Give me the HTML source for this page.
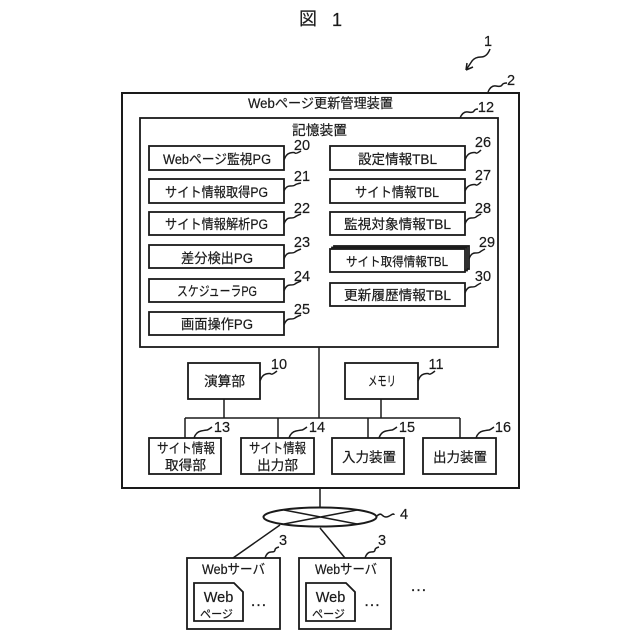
<!DOCTYPE html>
<html><head><meta charset="utf-8"><style>
html,body{margin:0;padding:0;background:#fff}
svg{display:block}
text{font-family:"Liberation Sans","Noto Sans CJK JP",sans-serif;fill:#1a1a1a;stroke:#1a1a1a;stroke-width:.2;text-anchor:middle}
.b{fill:#fff;stroke:#1a1a1a;stroke-width:1.8}
.l{fill:none;stroke:#1a1a1a;stroke-width:1.5}
.t{font-size:13.5px}
.n{font-size:14.5px}
</style></head><body>
<svg width="640" height="640" viewBox="0 0 640 640" xmlns="http://www.w3.org/2000/svg">
<text x="308" y="25" font-size="18">図</text>
<text x="337" y="26" font-size="18">1</text>
<text x="488" y="46" class="n">1</text>
<path class="l" d="M490 49q-3 8-9 8t-9 4l-6 9M466 70l1-7M466 70l7-3"/>

<rect class="b" x="122" y="93" width="397" height="395" style="stroke-width:2"/>
<text x="320.500" y="108" class="t" textLength="145" lengthAdjust="spacingAndGlyphs">Webページ更新管理装置</text>
<text x="511" y="85" class="n">2</text>
<path class="l" d="M488 92q3-7 8-6t6-1 5-2"/>
<rect class="b" x="140" y="118" width="358" height="229"/>
<text x="319.500" y="135" class="t" textLength="55" lengthAdjust="spacingAndGlyphs">記憶装置</text>
<text x="486" y="112" class="n">12</text>
<path class="l" d="M460 118q3-7 8-6t6-1 4-2"/>

<g>
<rect class="b" x="149" y="146" width="135" height="24"/><text x="217" y="164" class="t" textLength="108" lengthAdjust="spacingAndGlyphs">Webページ監視PG</text>
<rect class="b" x="149" y="179" width="135" height="24"/><text x="216.500" y="197" class="t" textLength="103" lengthAdjust="spacingAndGlyphs">サイト情報取得PG</text>
<rect class="b" x="149" y="212" width="135" height="23"/><text x="216.500" y="229" class="t" textLength="103" lengthAdjust="spacingAndGlyphs">サイト情報解析PG</text>
<rect class="b" x="149" y="245" width="135" height="23"/><text x="217" y="263" class="t" textLength="72" lengthAdjust="spacingAndGlyphs">差分検出PG</text>
<rect class="b" x="149" y="279" width="135" height="23"/><text x="217" y="296" class="t" textLength="80" lengthAdjust="spacingAndGlyphs">スケジューラPG</text>
<rect class="b" x="149" y="312" width="135" height="23"/><text x="217" y="329" class="t" textLength="72" lengthAdjust="spacingAndGlyphs">画面操作PG</text>
<text x="302" y="150" class="n">20</text><path class="l" d="M284 160q2-6 6-7t5 0 6-2"/>
<text x="302" y="181" class="n">21</text><path class="l" d="M284 191q2-5 6-5t5-1 6-2"/>
<text x="302" y="213" class="n">22</text><path class="l" d="M284 224q2-6 6-6t5-1 6-3"/>
<text x="302" y="247" class="n">23</text><path class="l" d="M284 259q2-6 6-6t5-1 6-3"/>
<text x="302" y="281" class="n">24</text><path class="l" d="M284 291q2-6 6-6t5-1 6-3"/>
<text x="302" y="314" class="n">25</text><path class="l" d="M284 325q2-6 6-6t5-1 6-3"/>
</g>
<g>
<rect class="b" x="330" y="146" width="135" height="24"/><text x="397.500" y="164" class="t" textLength="79" lengthAdjust="spacingAndGlyphs">設定情報TBL</text>
<rect class="b" x="330" y="179" width="135" height="24"/><text x="397" y="197" class="t" textLength="84" lengthAdjust="spacingAndGlyphs">サイト情報TBL</text>
<rect class="b" x="330" y="212" width="135" height="23"/><text x="397.500" y="229" class="t" textLength="107" lengthAdjust="spacingAndGlyphs">監視対象情報TBL</text>
<rect class="b" x="334" y="246" width="135" height="23"/>
<rect class="b" x="332" y="247.500" width="135" height="23"/>
<rect class="b" x="330" y="249" width="135" height="23"/><text x="397" y="266" font-size="12.500" textLength="102" lengthAdjust="spacingAndGlyphs">サイト取得情報TBL</text>
<rect class="b" x="330" y="283" width="135" height="23"/><text x="397.500" y="300" class="t" textLength="107" lengthAdjust="spacingAndGlyphs">更新履歴情報TBL</text>
<text x="483" y="147" class="n">26</text><path class="l" d="M465 160q2-6 6-7t5 0 5-3"/>
<text x="483" y="180" class="n">27</text><path class="l" d="M465 191q2-5 6-6t5 0 5-3"/>
<text x="483" y="213" class="n">28</text><path class="l" d="M465 224q2-6 6-6t5-1 5-3"/>
<text x="487" y="247" class="n">29</text><path class="l" d="M469 259q2-6 6-6t5-1 5-3"/>
<text x="483" y="281" class="n">30</text><path class="l" d="M465 293q2-6 6-6t5-1 5-3"/>
</g>

<path class="l" d="M319 347V418M185 418H460M224 399V418M381 399V418M185 418V438M278 418V438M368 418V438M460 418V438"/>
<rect class="b" x="188" y="363" width="72" height="36"/><text x="224.500" y="386" class="t" textLength="41" lengthAdjust="spacingAndGlyphs">演算部</text>
<rect class="b" x="345" y="363" width="73" height="36"/><text x="382" y="386" class="t" textLength="28" lengthAdjust="spacingAndGlyphs">メモリ</text>
<text x="279" y="369" class="n">10</text><path class="l" d="M260 381q2-6 6-7t5 0 6-3"/>
<text x="436" y="369" class="n">11</text><path class="l" d="M418 381q2-6 6-7t5 0 6-3"/>

<rect class="b" x="149" y="438" width="72" height="36"/><text x="186" y="453" class="t" textLength="58" lengthAdjust="spacingAndGlyphs">サイト情報</text><text x="185.500" y="470" class="t" textLength="41" lengthAdjust="spacingAndGlyphs">取得部</text>
<rect class="b" x="241" y="438" width="73" height="36"/><text x="277.500" y="453" class="t" textLength="57" lengthAdjust="spacingAndGlyphs">サイト情報</text><text x="277.500" y="470" class="t" textLength="41" lengthAdjust="spacingAndGlyphs">出力部</text>
<rect class="b" x="332" y="438" width="72" height="36"/><text x="369" y="462" class="t" textLength="54" lengthAdjust="spacingAndGlyphs">入力装置</text>
<rect class="b" x="423" y="438" width="73" height="36"/><text x="460" y="462" class="t" textLength="54" lengthAdjust="spacingAndGlyphs">出力装置</text>
<text x="222" y="432" class="n">13</text><path class="l" d="M194 438q2-6 7-7t6-1 5-3"/>
<text x="317" y="432" class="n">14</text><path class="l" d="M289 438q2-6 7-7t6-1 5-3"/>
<text x="407" y="432" class="n">15</text><path class="l" d="M379 438q2-6 7-7t6-1 5-3"/>
<text x="503" y="432" class="n">16</text><path class="l" d="M476 438q2-6 7-7t6-1 5-3"/>

<path class="l" d="M320 488V508M280 525L233 558M320 528L345 558"/>
<ellipse class="b" cx="320" cy="517" rx="56.500" ry="9.500" style="stroke-width:2"/>
<path class="l" d="M284 510L357 524M284 524L357 510"/>
<text x="404" y="519" class="n">4</text>
<path class="l" d="M377 516q3-3 5-1t4 2 5-2 3 0"/>

<g>
<rect class="b" x="187" y="558" width="93" height="71"/>
<text x="233.500" y="574" class="t" textLength="63" lengthAdjust="spacingAndGlyphs">Webサーバ</text>
<path class="b" d="M194 583H234L243 592V621H194Z"/>
<text x="218.500" y="602" font-size="14.500">Web</text>
<text x="216.500" y="618" font-size="11.500" textLength="33" lengthAdjust="spacingAndGlyphs">ページ</text>
<text x="258.500" y="606" font-size="17">…</text>
<text x="283" y="545" class="n">3</text>
<path class="l" d="M265 558q2-6 6-6t4-2 4-3"/>
</g>
<g>
<rect class="b" x="299" y="558" width="92" height="71"/>
<text x="346" y="574" class="t" textLength="62" lengthAdjust="spacingAndGlyphs">Webサーバ</text>
<path class="b" d="M306 583H346L355 592V621H306Z"/>
<text x="330.500" y="602" font-size="14.500">Web</text>
<text x="328.500" y="618" font-size="11.500" textLength="33" lengthAdjust="spacingAndGlyphs">ページ</text>
<text x="372" y="606" font-size="17">…</text>
<text x="382" y="545" class="n">3</text>
<path class="l" d="M365 558q2-6 6-6t4-2 4-3"/>
</g>
<text x="418.500" y="591" font-size="17">…</text>
</svg>
</body></html>
